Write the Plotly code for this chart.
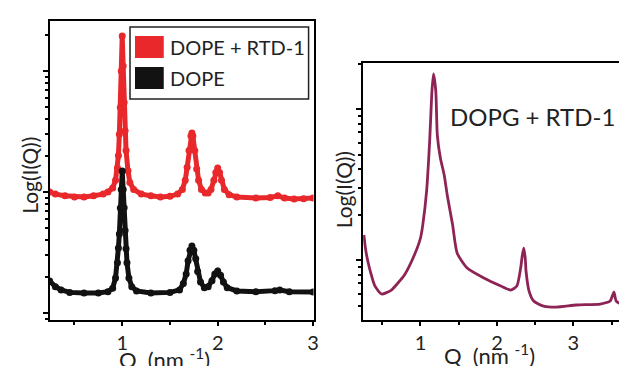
import plotly.graph_objects as go

W, H = 627, 366

# ---------------- data ----------------
q_red = [0.24, 0.30, 0.40, 0.50, 0.60, 0.70, 0.80, 0.85, 0.90, 0.93, 0.95, 0.96, 0.97, 0.98, 0.99,
         1.00, 1.01, 1.02, 1.03, 1.04, 1.06, 1.08, 1.12, 1.20, 1.30, 1.40, 1.50, 1.58, 1.63, 1.66,
         1.68, 1.70, 1.72, 1.73, 1.74, 1.76, 1.78, 1.80, 1.83, 1.87, 1.90, 1.93, 1.96, 1.98, 2.00,
         2.02, 2.04, 2.07, 2.12, 2.20, 2.40, 2.55, 2.63, 2.70, 2.80, 2.90, 3.00]
i_red = [1.00, 0.96, 0.93, 0.91, 0.91, 0.93, 0.96, 1.00, 1.08, 1.25, 1.58, 2.0, 3.0, 5.0, 10.0,
         19.5, 11.0, 5.5, 3.2, 2.2, 1.5, 1.2, 1.05, 0.96, 0.93, 0.91, 0.92, 0.96, 1.05, 1.25,
         1.6, 2.2, 2.9, 3.07, 2.9, 2.2, 1.55, 1.25, 1.05, 0.98, 0.98, 1.05, 1.25, 1.45, 1.58,
         1.45, 1.25, 1.05, 0.95, 0.91, 0.89, 0.90, 0.93, 0.89, 0.875, 0.88, 0.89]

q_black = [0.24, 0.30, 0.36, 0.45, 0.60, 0.75, 0.85, 0.90, 0.93, 0.95, 0.96, 0.97, 0.98, 0.99,
           1.00, 1.01, 1.02, 1.03, 1.04, 1.05, 1.07, 1.10, 1.15, 1.30, 1.50, 1.60, 1.64, 1.67,
           1.69, 1.71, 1.73, 1.75, 1.77, 1.79, 1.82, 1.86, 1.90, 1.94, 1.97, 2.00, 2.03, 2.06,
           2.10, 2.20, 2.40, 2.60, 2.65, 2.75, 3.00]
i_black = [0.184, 0.165, 0.155, 0.148, 0.146, 0.146, 0.150, 0.160, 0.195, 0.26, 0.344, 0.45, 0.738, 1.05,
           1.49, 1.05, 0.74, 0.48, 0.34, 0.26, 0.195, 0.165, 0.152, 0.146, 0.148, 0.155, 0.175, 0.21,
           0.27, 0.33, 0.358, 0.33, 0.28, 0.22, 0.18, 0.162, 0.165, 0.185, 0.21, 0.222, 0.205, 0.18,
           0.162, 0.152, 0.150, 0.153, 0.155, 0.150, 0.149]

q_dopg = [0.26, 0.28, 0.31, 0.35, 0.40, 0.49, 0.62, 0.70, 0.79, 0.92, 1.00, 1.03, 1.08, 1.12, 1.15,
          1.17, 1.20, 1.22, 1.26, 1.31, 1.35, 1.42, 1.48, 1.61, 1.83, 2.05, 2.18, 2.26, 2.31, 2.33,
          2.35, 2.37, 2.38, 2.42, 2.48, 2.61, 2.78, 3.04, 3.35, 3.48, 3.53, 3.56, 3.65, 3.73]
i_dopg = [1.47, 1.20, 0.99, 0.82, 0.68, 0.596, 0.633, 0.70, 0.796, 1.08, 1.40, 1.71, 2.86, 6.14, 13.2,
          17.1, 13.2, 6.73, 4.74, 3.66, 2.69, 1.71, 1.11, 0.885, 0.760, 0.673, 0.633, 0.673, 0.885, 1.06,
          1.20, 1.03, 0.846, 0.623, 0.535, 0.496, 0.488, 0.504, 0.511, 0.535, 0.614, 0.535, 0.504, 0.504]

x_tick_vals = [1, 2, 3]
x_tick_text = ["1", "2", "3"]
name_red = "DOPE + RTD-1"
name_black = "DOPE"
label_dopg = "DOPG + RTD-1"

# ---------------- style ----------------
RED = "#e8282b"
BLACK = "#121212"
MAROON = "#8e2455"
TXT = "#222222"
FONT = "Lato"


def px(x):
    return x / W


def py(y):
    return 1 - y / H


fig = go.Figure()
fig.add_trace(go.Scatter(x=q_red, y=i_red, mode="lines+markers", name=name_red,
                         line=dict(color=RED, width=5), marker=dict(color=RED, size=7),
                         xaxis="x", yaxis="y", showlegend=False))
fig.add_trace(go.Scatter(x=q_black, y=i_black, mode="lines+markers", name=name_black,
                         line=dict(color=BLACK, width=5), marker=dict(color=BLACK, size=7),
                         xaxis="x", yaxis="y", showlegend=False))
fig.add_trace(go.Scatter(x=q_dopg, y=i_dopg, mode="lines", name=label_dopg,
                         line=dict(color=MAROON, width=2.8, shape="spline", smoothing=0.6),
                         xaxis="x2", yaxis="y2", showlegend=False))

axis_common = dict(showline=True, linecolor="black", linewidth=2, ticks="outside",
                   tickcolor="black", tickwidth=1.5, showgrid=False, zeroline=False,
                   tickfont=dict(family=FONT, size=20, color=TXT))

fig.update_layout(
    width=W, height=H, margin=dict(l=0, r=0, t=0, b=0),
    paper_bgcolor="white", plot_bgcolor="white",
    font=dict(family=FONT, color=TXT),
    xaxis=dict(domain=[px(42), px(308)], range=[0.24, 3.004], anchor="y", mirror=True,
               tickvals=x_tick_vals, ticktext=x_tick_text, ticklen=4,
               minor=dict(ticks="outside", tickvals=[0.5, 1.5, 2.5], ticklen=3, tickcolor="black"),
               **axis_common),
    yaxis=dict(domain=[py(312), py(13)], type="log", range=[-1.058, 1.413], anchor="x", mirror=True,
               showticklabels=False, dtick=1, ticklen=5,
               minor=dict(ticks="outside", dtick="D1", ticklen=3, tickcolor="black"),
               **axis_common),
    xaxis2=dict(domain=[px(358), px(627)], range=[0.25, 3.74], anchor="y2", mirror=True,
                tickvals=x_tick_vals, ticktext=x_tick_text, ticklen=4,
                minor=dict(ticks="outside", tickvals=[0.5, 1.5, 2.5, 3.5], ticklen=3, tickcolor="black"),
                **axis_common),
    yaxis2=dict(domain=[py(312), py(55)], type="log", range=[-0.397, 1.305], anchor="x2",
                showticklabels=False, dtick=1, ticklen=5,
                minor=dict(ticks="outside", dtick="D1", ticklen=3, tickcolor="black"),
                **axis_common),
)

shapes = [
    dict(type="rect", xref="paper", yref="paper", x0=px(123), x1=px(303), y0=py(91), y1=py(19),
         line=dict(color="#222", width=1.5), fillcolor="white"),
    dict(type="rect", xref="paper", yref="paper", x0=px(128), x1=px(157), y0=py(50), y1=py(28),
         line=dict(width=0), fillcolor=RED),
    dict(type="rect", xref="paper", yref="paper", x0=px(128), x1=px(157), y0=py(81), y1=py(59),
         line=dict(width=0), fillcolor=BLACK),
]
fig.update_layout(shapes=shapes)

ann = [
    dict(text=name_red, x=px(161), y=py(39), xanchor="left", yanchor="middle", size=20),
    dict(text=name_black, x=px(161), y=py(70), xanchor="left", yanchor="middle", size=20),
    dict(text=label_dopg, x=px(529), y=py(108), xanchor="center", yanchor="middle", size=24),
    dict(text="Q  (nm <sup>-1</sup>)", x=px(158), y=py(350), xanchor="center", yanchor="middle", size=22),
    dict(text="Q  (nm <sup>-1</sup>)", x=px(485), y=py(346), xanchor="center", yanchor="middle", size=22),
    dict(text="Log(I(Q))", x=px(22), y=py(167), xanchor="center", yanchor="middle", size=21, angle=-90),
    dict(text="Log(I(Q))", x=px(338), y=py(182), xanchor="center", yanchor="middle", size=21, angle=-90),
]
fig.update_layout(annotations=[
    dict(text=a["text"], x=a["x"], y=a["y"], xref="paper", yref="paper", xanchor=a["xanchor"],
         yanchor=a["yanchor"], showarrow=False, textangle=a.get("angle", 0),
         font=dict(family=FONT, size=a["size"], color=TXT))
    for a in ann
])

fig.write_html("out.html")
